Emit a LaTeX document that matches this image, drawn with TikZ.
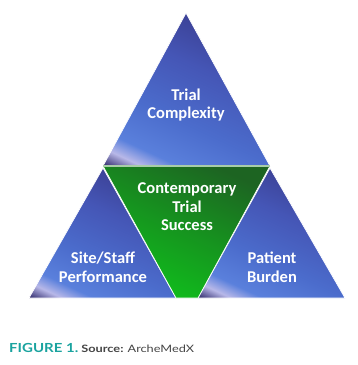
\documentclass[tikz,border=0pt]{standalone}
\usepackage{fontspec}
\setmainfont{Carlito}
\newfontfamily\latofont{Lato}
\definecolor{bdark}{HTML}{302A6C}
\definecolor{blight}{HTML}{B8B8E8}
\definecolor{bbright}{HTML}{5A80DC}
\definecolor{bmid}{HTML}{4B6CCC}
\definecolor{bmid2}{HTML}{4556B6}
\definecolor{bnavy}{HTML}{3A3D90}
\definecolor{glight}{HTML}{10BC1C}
\definecolor{gdark}{HTML}{1D6422}
\definecolor{gline}{HTML}{A8CDA8}
\definecolor{capteal}{HTML}{1AA39F}
\definecolor{capgrey}{HTML}{444444}
\pgfdeclareverticalshading{bluetri}{100bp}{color(0bp)=(bdark); color(17bp)=(bdark); color(22bp)=(blight); color(27bp)=(bbright); color(40bp)=(bmid); color(58bp)=(bmid2); color(75bp)=(bnavy); color(100bp)=(bnavy)}
\pgfdeclareverticalshading{greentri}{100bp}{color(0bp)=(glight); color(27bp)=(glight); color(50bp)=(glight!55!gdark); color(75bp)=(gdark); color(100bp)=(gdark)}
\tikzset{
  bluepart/.style={shading=bluetri, shading angle=-25, draw=white, line width=0.7pt},
  greenpart/.style={shading=greentri, shading angle=-25, draw=white, line width=0.7pt},
  lbl/.style={anchor=base, inner sep=0pt, text=white, font=\fontsize{16.5}{18.5}\selectfont\bfseries},
}
\begin{document}
\begin{tikzpicture}[x=1pt, y=-1pt]
\useasboundingbox (0,0) rectangle (357,365);
% top triangle
\coordinate (tA) at (186,13);
\coordinate (tB) at (103,166);
\coordinate (tC) at (270,166);
% left triangle
\coordinate (lA) at (103,168);
\coordinate (lB) at (29,298);
\coordinate (lC) at (176,298);
% right triangle
\coordinate (rA) at (270,168);
\coordinate (rB) at (198,298);
\coordinate (rC) at (345,298);
\shade[bluepart] (tA) -- (tB) -- (tC) -- cycle;
\shade[bluepart] (lA) -- (lB) -- (lC) -- cycle;
\shade[bluepart] (rA) -- (rB) -- (rC) -- cycle;
\shade[greenpart] (tB) -- (tC) -- (rB) -- (lC) -- cycle;
\draw[gline, line width=1.4pt] (tB) -- (tC);
% labels
\node[lbl] (t1) at (186,100) {Trial};
\node[lbl] (t2) at (186,118) {Complexity};
\node[lbl] (c1) at (187,193) {Contemporary};
\node[lbl] (c2) at (187,212) {Trial};
\node[lbl] (c3) at (187,230) {Success};
\node[lbl] (s1) at (103,263) {Site/Staff};
\node[lbl] (s2) at (103,282) {Performance};
\node[lbl] (p1) at (272,263) {Patient};
\node[lbl] (p2) at (272,282) {Burden};
% caption
\node[anchor=base west, inner sep=0pt] (cap) at (9,352) {\latofont\scalebox{1.2}[1]{\fontsize{12.5}{14}\selectfont\bfseries\color{capteal}FIGURE 1.}\hspace{3pt}\scalebox{1.25}[1]{\fontsize{10.2}{12}\selectfont\color{capgrey}\bfseries Source: \mdseries ArcheMedX}};
\end{tikzpicture}
\end{document}
